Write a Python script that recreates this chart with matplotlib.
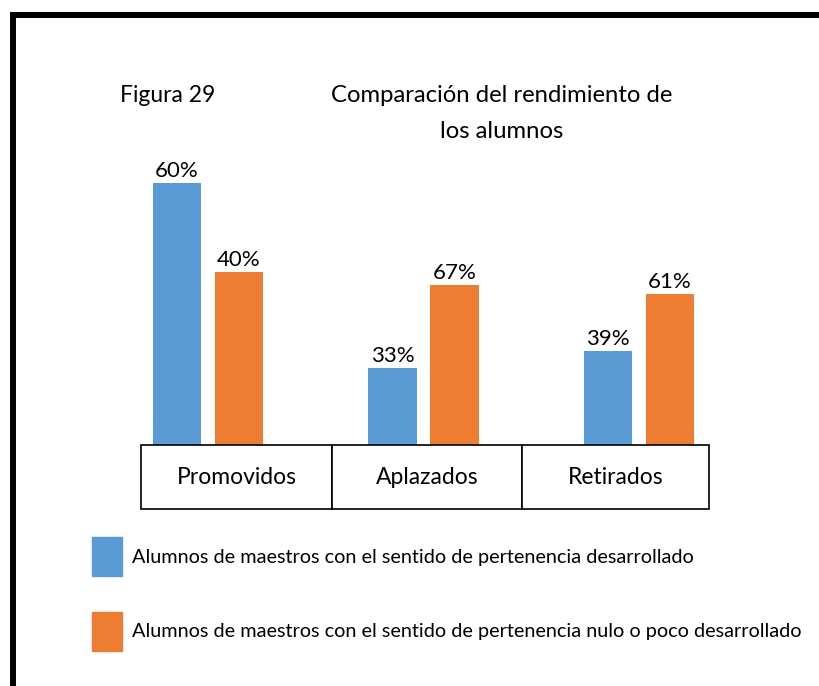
import matplotlib.pyplot as plt
from matplotlib.patches import Rectangle

categories = ['Promovidos', 'Aplazados', 'Retirados']
# bar heights as drawn (each category is scaled on its own counts)
desarrollado = [60, 17.7, 21.6]
nulo = [39.7, 36.7, 34.6]
lbl_desarrollado = ['60%', '33%', '39%']
lbl_nulo = ['40%', '67%', '61%']
series_names = ['Alumnos de maestros con el sentido de pertenencia desarrollado',
                'Alumnos de maestros con el sentido de pertenencia nulo o poco desarrollado']

blue = '#5B9BD5'
orange = '#ED7D31'
plt.rcParams['font.family'] = ['Lato', 'DejaVu Sans']

W, H = 819, 686
fig = plt.figure(figsize=(W / 100, H / 100), dpi=100)

def px(left, top, w, h):
    # pixel box (from top-left) -> figure fraction
    return [left / W, (H - top - h) / H, w / W, h / H]

# outer frame (left and top edges only visible)
fig.add_artist(Rectangle((13 / W, -0.2), 2, (H - 14.5) / H + 0.2,
                         transform=fig.transFigure, fill=False,
                         edgecolor='black', linewidth=4.3))

fig.text(120 / W, 1 - 96 / H, 'Figura 29', fontsize=16.5, va='center', ha='left')
fig.text(502 / W, 1 - 96 / H, 'Comparación del rendimiento de', fontsize=17.2,
         va='center', ha='center')
fig.text(502 / W, 1 - 131 / H, 'los alumnos', fontsize=17.2, va='center', ha='center')

# bars
ax = fig.add_axes(px(100.25, 150, 646.5, 295))
x = range(len(categories))
bw = 0.227
off = 0.144
b1 = ax.bar([i - off for i in x], desarrollado, bw, color=blue)
b2 = ax.bar([i + off for i in x], nulo, bw, color=orange)
ax.bar_label(b1, labels=lbl_desarrollado, padding=1.5, fontsize=16)
ax.bar_label(b2, labels=lbl_nulo, padding=1.5, fontsize=16)
ax.set_xlim(-0.5, 2.5)
ax.set_ylim(0, 295 / 4.36)
ax.axis('off')

# category table below the bars
tax = fig.add_axes(px(141, 445, 568, 64))
tax.axis('off')
tbl = tax.table(cellText=[categories], cellLoc='center', bbox=[0, 0, 1, 1],
                colWidths=[191, 190, 187])
tbl.auto_set_font_size(False)
for (r, c), cell in tbl.get_celld().items():
    cell.set_linewidth(1.2)
    cell.get_text().set_fontsize(16.5)
    cell.get_text().set_va('center')
    cell.set_text_props(y=cell.get_y() + cell.get_height() * 0.6)

# legend
for i, (name, col) in enumerate(zip(series_names, [blue, orange])):
    top = [537, 612][i]
    fig.add_artist(Rectangle((92 / W, 1 - (top + 39) / H), 30 / W, 39 / H,
                             transform=fig.transFigure, color=col))
    fig.text(132 / W, 1 - (top + 20) / H, name, fontsize=14.3, va='center', ha='left')

fig.savefig('out.png', dpi=100)
